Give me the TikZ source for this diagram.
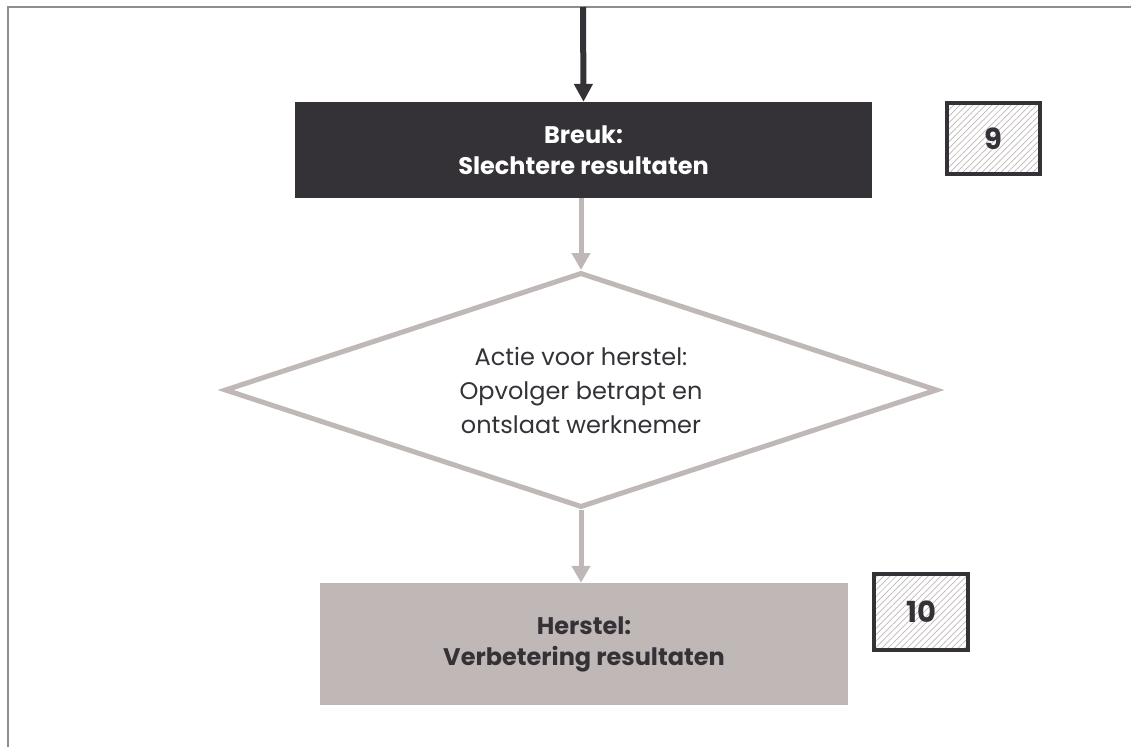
\documentclass[tikz,border=0pt]{standalone}
\usepackage{fontspec}
\setmainfont{Poppins}
\usetikzlibrary{shapes.geometric,patterns.meta,arrows.meta}
\definecolor{DarkClr}{HTML}{353237}
\definecolor{TaupeClr}{HTML}{C0B8B6}
\definecolor{FrameClr}{HTML}{8E8E8E}
\definecolor{HatchClr}{HTML}{BDB6B6}

\begin{document}
\begin{tikzpicture}[x=1pt,y=-1pt,
  breukbox/.style={rectangle,fill=DarkClr,text=white,font=\fontsize{24}{31}\selectfont\bfseries,
    align=center,minimum width=577pt,minimum height=96pt,inner sep=0pt},
  herstelbox/.style={rectangle,fill=TaupeClr,text=DarkClr,font=\fontsize{24}{31}\selectfont\bfseries,
    align=center,minimum width=528pt,minimum height=122pt,inner sep=0pt},
  actie/.style={diamond,aspect=3,draw=TaupeClr,line width=5pt,fill=white,text=DarkClr,
    font=\fontsize{24}{34}\selectfont,align=center,minimum width=713pt,minimum height=235pt,inner sep=0pt},
  nrbox/.style={rectangle,draw=DarkClr,line width=4.5pt,text=DarkClr,font=\fontsize{29}{30}\selectfont\bfseries,
    pattern={Lines[angle=45,distance=4.5pt,line width=0.7pt]},pattern color=HatchClr,inner sep=0pt},
  darkarrow/.style={draw=DarkClr,line width=6pt,-{Triangle[length=18pt,width=18pt]}},
  greyarrow/.style={draw=TaupeClr,line width=5pt,-{Triangle[length=17pt,width=18pt]}}]
\useasboundingbox (0,0) rectangle (1131,747);

% frame
\draw[FrameClr,line width=2.5pt] (8,747) -- (8,7) -- (1131,7);

% boxes
\node[breukbox] (breuk) at (583.5,150) {Breuk:\\Slechtere resultaten};
\node[nrbox,minimum width=93pt,minimum height=71pt] (nr9) at (993.5,138.5) {9};

\node[actie] (actie) at (581,390) {Actie voor herstel:\\Opvolger betrapt en\\ontslaat werknemer};

\node[herstelbox] (herstel) at (584,644) {Herstel:\\Verbetering resultaten};
\node[nrbox,minimum width=94pt,minimum height=76pt] (nr10) at (921,612) {10};

% connectors
\coordinate (start) at (583,7);
\draw[darkarrow] (start) -- (breuk.north);
\draw[greyarrow] (breuk.south -| actie.north) -- (actie.north);
\draw[greyarrow] (actie.south) -- (herstel.north -| actie.south);

\end{tikzpicture}
\end{document}
